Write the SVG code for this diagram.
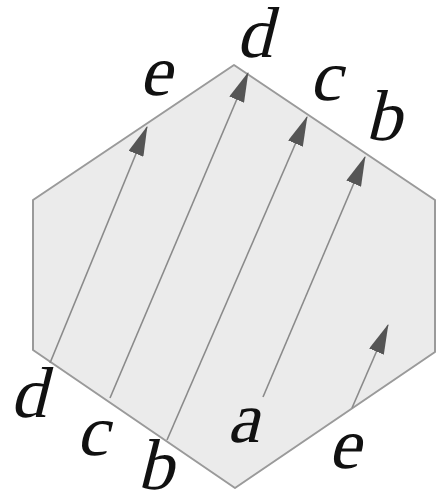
<svg xmlns="http://www.w3.org/2000/svg" width="439" height="499" viewBox="0 0 439 499">
  <style>
    .hex { fill: #ebebeb; stroke: #9a9a9a; stroke-width: 2; stroke-linejoin: round; }
    .arr { stroke: #8a8a8a; stroke-width: 1.6; fill: none; marker-end: url(#head); }
    .lbl { font-family: 'Liberation Serif', 'Times New Roman', serif; font-size: 72px; fill: #111111; text-anchor: middle; }
  </style>
  <defs>
    <marker id="head" viewBox="0 0 30 16" markerWidth="30" markerHeight="16" refX="29" refY="8" orient="auto" markerUnits="userSpaceOnUse">
      <path d="M0,0 L30,8 L0,16 z" fill="#555555"/>
    </marker>
  </defs>
  <rect width="439" height="499" fill="#ffffff"/>
  <g id="hexagon">
    <polygon class="hex" points="234,65 435,200 435,352 235,488 33,350 33,200"/>
  </g>
  <g id="connectors">
    <line class="arr" x1="50" y1="363" x2="147" y2="127"/>
    <line class="arr" x1="110" y1="398" x2="248" y2="73"/>
    <line class="arr" x1="167" y1="440" x2="307" y2="117"/>
    <line class="arr" x1="263" y1="397" x2="365" y2="157"/>
    <line class="arr" x1="352" y1="408" x2="388" y2="325"/>
  </g>
  <g id="labels">
    <g id="label-top-d" transform="translate(254,57) skewX(-14)"><text class="lbl" x="0" y="0">d</text></g>
    <g id="label-top-e" transform="translate(155,95) skewX(-14)"><text class="lbl" x="0" y="0">e</text></g>
    <g id="label-top-c" transform="translate(325,100) skewX(-14)"><text class="lbl" x="0" y="0">c</text></g>
    <g id="label-top-b" transform="translate(383,140) skewX(-14)"><text class="lbl" x="0" y="0">b</text></g>
    <g id="label-bot-d" transform="translate(28,417) skewX(-14)"><text class="lbl" x="0" y="0">d</text></g>
    <g id="label-bot-c" transform="translate(92,455) skewX(-14)"><text class="lbl" x="0" y="0">c</text></g>
    <g id="label-bot-b" transform="translate(155,489) skewX(-14)"><text class="lbl" x="0" y="0">b</text></g>
    <g id="label-bot-a" transform="translate(243,442) skewX(-14)"><text class="lbl" x="0" y="0">a</text></g>
    <g id="label-bot-e" transform="translate(344,468) skewX(-14)"><text class="lbl" x="0" y="0">e</text></g>
  </g>
</svg>
